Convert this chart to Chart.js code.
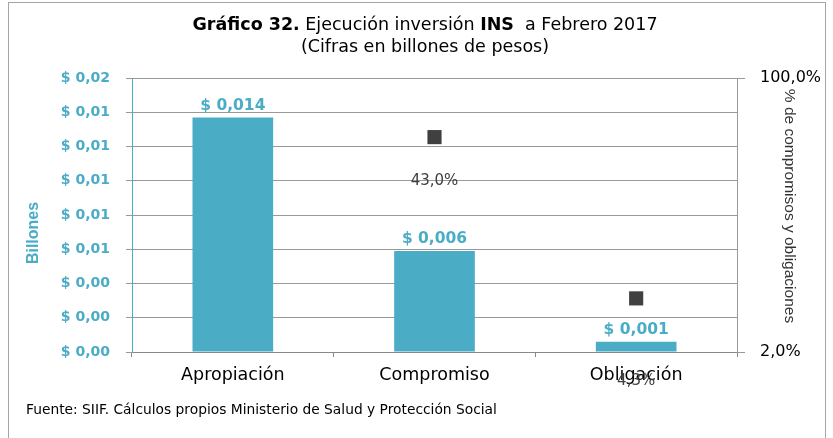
<!DOCTYPE html>
<html>
<head>
<meta charset="utf-8">
<script src="https://cdn.jsdelivr.net/npm/chart.js@4.4.1/dist/chart.umd.min.js"></script>
<style>
  body { margin: 0; background: #fff; }
  #chart { display: block; }
</style>
</head>
<body>
<canvas id="chart" width="833" height="438"></canvas>
<script>
// Datos del gráfico
var categories = ["Apropiación", "Compromiso", "Obligación"];
var montos = [0.0137, 0.0059, 0.0006];          // billones de pesos
var porcentajes = [null, 43.0, 4.3];            // % de compromisos y obligaciones
var pctTicks = [2, 100];

var teal = "#4BACC6";
var font = "'DejaVu Sans', Verdana, sans-serif";
var narrow = "'Liberation Sans', Arial, sans-serif";

function money(v, d) {
    return "$ " + v.toFixed(d).replace(".", ",");
}
function pct(v) {
    return v.toFixed(1).replace(".", ",") + "%";
}

// Titulo, titulos de ejes, etiquetas y fuente.
var extras = {
    id: "extras",
    afterDraw: function(chart) {
        var ctx = chart.ctx;
        ctx.save();

        // marco
        ctx.strokeStyle = "#a6a6a6";
        ctx.lineWidth = 1;
        ctx.strokeRect(8.5, 2.5, 817, 450);

        // titulo con partes en negrita
        var parts = [["Gráfico 32.", true], [" Ejecución inversión ", false], ["INS", true], ["  a Febrero 2017", false]];
        var total = 0;
        parts.forEach(function(p) {
            ctx.font = (p[1] ? "bold " : "") + "17.5px " + font;
            total += ctx.measureText(p[0]).width;
        });
        var x = 425 - total / 2;
        ctx.fillStyle = "#000";
        ctx.textBaseline = "middle";
        ctx.textAlign = "left";
        parts.forEach(function(p) {
            ctx.font = (p[1] ? "bold " : "") + "17.5px " + font;
            ctx.fillText(p[0], x, 25);
            x += ctx.measureText(p[0]).width;
        });
        ctx.font = "17.5px " + font;
        ctx.textAlign = "center";
        ctx.fillText("(Cifras en billones de pesos)", 425, 47);

        // titulo eje izquierdo
        ctx.save();
        ctx.translate(34, 233);
        ctx.rotate(-Math.PI / 2);
        ctx.font = "bold 16px " + narrow;
        ctx.fillStyle = teal;
        ctx.fillText("Billones", 0, 0);
        ctx.restore();

        // titulo eje derecho
        ctx.save();
        ctx.translate(789, 206);
        ctx.rotate(Math.PI / 2);
        ctx.font = "15.5px " + narrow;
        ctx.fillStyle = "#333";
        ctx.fillText("% de compromisos y obligaciones", 0, 0);
        ctx.restore();

        // etiquetas de barras
        var barMeta = chart.getDatasetMeta(1);
        ctx.font = "bold 15.5px " + font;
        ctx.fillStyle = teal;
        ctx.textBaseline = "bottom";
        barMeta.data.forEach(function(bar, i) {
            ctx.fillText(money(montos[i], 3), bar.x, bar.y - 4);
        });

        // etiquetas de porcentaje
        var lineMeta = chart.getDatasetMeta(0);
        var shift = [0, 44, 83];
        ctx.font = "15px " + font;
        ctx.fillStyle = "#404040";
        ctx.textBaseline = "middle";
        lineMeta.data.forEach(function(pt, i) {
            if (porcentajes[i] == null) return;
            ctx.fillText(pct(porcentajes[i]), pt.x, pt.y + shift[i]);
        });

        // fuente
        ctx.font = "13.8px " + font;
        ctx.fillStyle = "#000";
        ctx.textAlign = "left";
        ctx.fillText("Fuente: SIIF. Cálculos propios Ministerio de Salud y Protección Social", 26, 410);

        ctx.restore();
    }
};

var chart = new Chart(document.getElementById("chart"), {
    data: {
        labels: categories,
        datasets: [{
            type: "line",
            label: "%",
            data: porcentajes,
            yAxisID: "y1",
            showLine: false,
            pointStyle: "rect",
            pointRadius: 10,
            pointBackgroundColor: "#404040",
            pointBorderColor: "#404040",
            pointBorderWidth: 0,
            order: 0
        }, {
            type: "bar",
            label: "Billones",
            data: montos,
            yAxisID: "y",
            backgroundColor: teal,
            barPercentage: 0.4,
            categoryPercentage: 1,
            order: 1
        }]
    },
    options: {
        responsive: false,
        animation: false,
        layout: { padding: { top: 78, bottom: 0, left: 0, right: 0 } },
        plugins: {
            legend: { display: false },
            tooltip: { enabled: false }
        },
        scales: {
            x: {
                grid: { offset: true, drawOnChartArea: false, color: "#888", tickLength: 5 },
                border: { color: "#888" },
                ticks: { color: "#000", font: { family: font, size: 17.5 }, padding: 8 },
                afterFit: function(s) { s.height = 86; }
            },
            y: {
                position: "left",
                min: 0,
                max: 0.016,
                ticks: {
                    stepSize: 0.002,
                    color: teal,
                    font: { family: font, size: 14, weight: "bold" },
                    padding: 16,
                    callback: function(v) { return money(v, 2); }
                },
                grid: { color: "#999", tickLength: 6 },
                border: { color: teal },
                afterFit: function(s) { s.width = 132; }
            },
            y1: {
                type: "logarithmic",
                position: "right",
                min: 2,
                max: 100,
                afterBuildTicks: function(s) {
                    s.ticks = pctTicks.map(function(v) { return { value: v }; });
                },
                ticks: {
                    color: "#000",
                    font: { family: font, size: 16 },
                    padding: 15,
                    callback: function(v) { return pct(v); }
                },
                grid: { drawOnChartArea: false, color: "#999", tickLength: 8 },
                border: { color: "#999" },
                afterFit: function(s) { s.width = 96; }
            }
        }
    },
    plugins: [extras]
});
</script>
</body>
</html>
